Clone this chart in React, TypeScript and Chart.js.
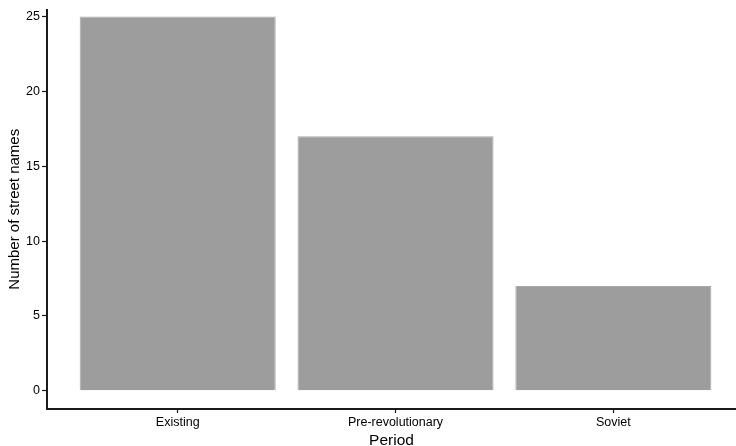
import React, { useEffect, useRef } from "react";
import { Chart, registerables } from "chart.js";

Chart.register(...registerables);

const categories = ["Existing", "Pre-revolutionary", "Soviet"];
const streetNames = [25, 17, 7];
const yTicks = [0, 5, 10, 15, 20, 25];

export default function App() {
  const ref = useRef<HTMLCanvasElement | null>(null);

  useEffect(() => {
    document.body.style.margin = "0";
    const canvas = ref.current;
    if (!canvas) return;
    const font = "'Liberation Sans', Arial, Helvetica, sans-serif";
    const chart = new Chart(canvas, {
      type: "bar",
      data: {
        datasets: [
          {
            data: streetNames.map((v, i) => ({ x: i, y: v })),
            backgroundColor: "#9d9d9d",
            borderColor: "#a9a9a9",
            borderWidth: 1,
            barPercentage: 0.9,
            categoryPercentage: 1.0,
          },
        ],
      },
      options: {
        responsive: false,
        animation: false,
        layout: { padding: { top: 9, left: 0, right: 0, bottom: 0 } },
        plugins: { legend: { display: false }, tooltip: { enabled: false } },
        scales: {
          x: {
            type: "linear",
            offset: false,
            min: -0.6,
            max: 2.563,
            afterBuildTicks: (scale: any) => {
              scale.ticks = categories.map((_, i) => ({ value: i }));
            },
            afterFit: (scale: any) => {
              scale.height = 37;
            },
            ticks: {
              callback: (v: any) => categories[v] ?? "",
              color: "#000",
              font: { family: font, size: 12.5 },
              padding: 2,
              maxRotation: 0,
              autoSkip: false,
            },
            grid: {
              offset: false,
              drawOnChartArea: false,
              drawTicks: true,
              tickLength: 4,
              color: "#1a1a1a",
              tickWidth: 1.2,
            },
            border: { display: true, color: "#1a1a1a", width: 2 },
            title: {
              display: true,
              text: "Period",
              color: "#000",
              font: { family: font, size: 15.5, lineHeight: 1 },
              padding: { top: 0, bottom: -2 },
            },
          },
          y: {
            type: "linear",
            min: -1.22,
            max: 25.47,
            afterBuildTicks: (scale: any) => {
              scale.ticks = yTicks.map((v) => ({ value: v }));
            },
            afterFit: (scale: any) => {
              scale.width = 47;
            },
            ticks: {
              color: "#000",
              font: { family: font, size: 12.5 },
              padding: 2,
            },
            grid: {
              drawOnChartArea: false,
              drawTicks: true,
              tickLength: 5,
              color: "#1a1a1a",
              tickWidth: 1.2,
            },
            border: { display: true, color: "#1a1a1a", width: 2 },
            title: {
              display: true,
              text: "Number of street names",
              color: "#000",
              font: { family: font, size: 15 },
              padding: { top: 6, bottom: 2 },
            },
          },
        },
      },
    } as any);
    return () => chart.destroy();
  }, []);

  return <canvas ref={ref} width={736} height={446} style={{ display: "block" }} />;
}
